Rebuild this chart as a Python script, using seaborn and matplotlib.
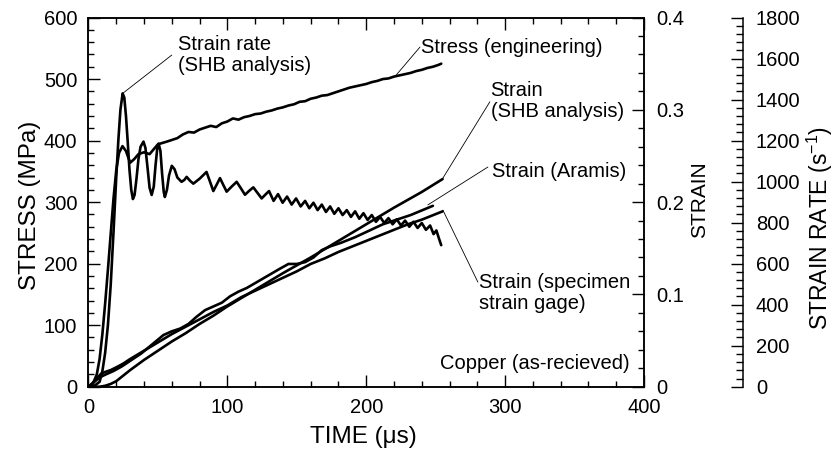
import matplotlib
matplotlib.use("Agg")
import matplotlib.pyplot as plt
import seaborn as sns
import pandas as pd
from matplotlib.ticker import MultipleLocator

# ---------------- data ----------------
stress_t = [0, 3, 6, 8, 10, 12, 14, 16, 18, 20, 22, 24.5, 27, 30, 33, 36, 40, 44, 47, 50,
            53, 56, 60, 64, 68, 72, 76, 80, 84, 88, 92, 96, 100, 104, 108, 112, 116, 120, 124, 128,
            132, 136, 140, 144, 148, 152, 156, 160, 164, 168, 172, 176, 180, 184, 188, 192, 196, 200,
            204, 208, 212, 216, 220, 224, 228, 232, 236, 240, 244, 248, 252, 254]
stress_v = [0, 4, 20, 45, 85, 135, 190, 248, 305, 352, 380, 391, 383, 364, 370, 378, 381, 378, 386, 394,
            396, 398, 401, 404, 410, 414, 413, 418, 421, 424, 422, 428, 431, 436, 434, 438, 440, 443, 444, 447,
            449, 452, 454, 457, 459, 463, 464, 468, 470, 473, 474, 477, 480, 483, 486, 488, 490, 492,
            495, 497, 500, 501, 504, 506, 508, 510, 513, 515, 518, 520, 523, 525]

rate_t = [0, 4, 8, 10, 12, 14, 16, 18, 20, 21.5, 23, 24.6, 25.8, 27, 28.2, 29.5, 30.8, 32, 33.2, 34.5,
          36, 37.5, 39.6, 41, 42.5, 44, 45.5, 47, 48.3, 49.5, 50.5, 51.8, 53, 54.2, 55, 56.5, 58, 60,
          62, 64, 67, 69, 70.7, 73, 75.5, 80, 85, 87.5, 89.9, 92.3, 94.7, 97, 99.5, 103, 106.7, 109.7,
          112.7, 115.7, 118.7, 121.7, 124.7, 127.3, 130, 133.3, 136.5, 139.8, 143,
          146.3, 149.5, 152.8, 156, 159, 162, 165, 168, 171, 174, 177, 180, 183, 186, 189, 192, 195,
          198, 201, 204, 207, 210, 213, 216, 219, 222, 225, 228, 231, 234, 237, 240, 243, 246, 248.5,
          250.5, 252.5, 254]
rate_v = [0, 3, 24, 75, 165, 300, 495, 750, 1020, 1200, 1350, 1430, 1410, 1320, 1200, 1060, 960, 915, 935, 1010,
          1110, 1170, 1195, 1165, 1070, 970, 935, 975, 1080, 1160, 1185, 1150, 1040, 950, 925, 960, 1030, 1077,
          1060, 1020, 999, 1008, 1023, 1005, 990, 1014, 1047, 1000, 954, 985, 1017, 985, 951, 975, 999, 968,
          936, 955, 972, 945, 918, 936, 954, 906, 939, 897, 927,
          888, 918, 879, 906, 870, 897, 861, 888, 852, 879, 843, 870, 837, 861, 828, 855, 819,
          846, 813, 837, 804, 828, 798, 822, 792, 816, 786, 810, 780, 804, 774, 798, 765, 786, 744,
          762, 720, 690]

shb_t = [0, 8, 12, 16, 20, 25, 30, 40, 50, 60, 70, 80, 90, 100, 120, 140, 160, 180, 200, 220, 240, 255]
shb_v = [0, 0, 0.001, 0.003, 0.006, 0.012, 0.018, 0.029, 0.039, 0.049, 0.058, 0.068, 0.077, 0.087,
         0.105, 0.123, 0.140, 0.158, 0.176, 0.194, 0.211, 0.225]

aramis_t = [0, 4, 8, 12, 18, 24, 30, 38, 46, 54, 60, 66, 72, 78, 84, 90, 96, 102, 108, 114, 122, 130,
            138, 144, 150, 156, 162, 168, 174, 182, 192, 202, 212, 222, 232, 240, 248]
aramis_v = [0, 0.005, 0.010, 0.013, 0.017, 0.022, 0.028, 0.036, 0.046, 0.056, 0.060, 0.063, 0.068, 0.076,
            0.083, 0.087, 0.091, 0.098, 0.103, 0.107, 0.114, 0.121, 0.128, 0.133, 0.133, 0.135, 0.140,
            0.148, 0.152, 0.156, 0.162, 0.169, 0.176, 0.181, 0.186, 0.191, 0.196]

gage_t = [0, 3, 6, 9, 12, 16, 20, 25, 30, 40, 50, 60, 70, 80, 90, 100, 110, 120, 130, 140, 150, 160,
          170, 180, 190, 200, 210, 220, 230, 240, 250, 255]
gage_v = [0, 0.004, 0.009, 0.014, 0.016, 0.018, 0.021, 0.025, 0.030, 0.039, 0.048, 0.057, 0.065, 0.073,
          0.081, 0.088, 0.097, 0.104, 0.111, 0.118, 0.125, 0.133, 0.139, 0.146, 0.152, 0.158, 0.164,
          0.170, 0.176, 0.181, 0.187, 0.190]

strain_ticks = [0, 0.1, 0.2, 0.3, 0.4]
strain_tick_labels = ["0", "0.1", "0.2", "0.3", "0.4"]

# ---------------- style ----------------
sns.set_theme(style="ticks")
plt.rcParams['font.family'] = ['Liberation Sans', 'DejaVu Sans']
plt.rcParams['mathtext.fontset'] = 'custom'
plt.rcParams['mathtext.rm'] = 'Liberation Sans'
for k in ['text.color', 'axes.labelcolor', 'xtick.color', 'ytick.color', 'axes.edgecolor']:
    plt.rcParams[k] = 'black'
plt.rcParams['axes.linewidth'] = 1.1

TICK_FS = 14.5
LABEL_FS = 17.5
ANN_FS = 14.5
LW = 1.9

fig = plt.figure(figsize=(8.37, 4.54), dpi=100)
ax = fig.add_axes([0.1057, 0.1482, 0.6637, 0.8132])
ax2 = ax.twinx()
ax3 = ax.twinx()

# ---------------- lines ----------------
df_s = pd.DataFrame({"t": stress_t, "v": stress_v})
sns.lineplot(data=df_s, x="t", y="v", ax=ax, color="black", lw=LW, estimator=None, sort=False)

for tt, vv in [(shb_t, shb_v), (aramis_t, aramis_v), (gage_t, gage_v)]:
    d = pd.DataFrame({"t": tt, "v": vv})
    sns.lineplot(data=d, x="t", y="v", ax=ax2, color="black", lw=LW, estimator=None, sort=False)

df_r = pd.DataFrame({"t": rate_t, "v": rate_v})
sns.lineplot(data=df_r, x="t", y="v", ax=ax3, color="black", lw=LW, estimator=None, sort=False)

# ---------------- axes ----------------
ax.set_xlim(0, 400)
ax.set_ylim(0, 600)
ax.xaxis.set_major_locator(MultipleLocator(100))
ax.xaxis.set_minor_locator(MultipleLocator(20))
ax.yaxis.set_major_locator(MultipleLocator(100))
ax.yaxis.set_minor_locator(MultipleLocator(20))
ax.tick_params(which='both', direction='in', top=True, right=False, labelsize=TICK_FS, width=1.0)
ax.tick_params(which='major', length=8.5)
ax.tick_params(which='minor', length=4.5)
ax.tick_params(axis='x', which='major', pad=8)
ax.tick_params(axis='y', which='major', pad=8)

ax2.set_ylim(0, 0.4)
ax2.set_yticks(strain_ticks)
ax2.set_yticklabels(strain_tick_labels)
ax2.yaxis.set_minor_locator(MultipleLocator(0.02))
ax2.tick_params(which='both', direction='in', labelsize=TICK_FS, width=1.0, pad=9)
ax2.tick_params(which='major', length=8.5)
ax2.tick_params(which='minor', length=4.5)

ax3.set_ylim(0, 1800)
ax3.yaxis.set_major_locator(MultipleLocator(200))
ax3.yaxis.set_minor_locator(MultipleLocator(40))
ax3.spines['right'].set_position(('axes', 1.1788))
for s in ['left', 'top', 'bottom']:
    ax3.spines[s].set_visible(False)
ax3.tick_params(which='both', direction='in', labelsize=TICK_FS, width=1.0, pad=9)
ax3.tick_params(which='major', length=9)
ax3.tick_params(which='minor', length=5)

ax.set_xlabel("TIME (μs)", fontsize=LABEL_FS)
ax.xaxis.label.set_va('center')
ax.xaxis.set_label_coords(0.494, -0.136)

ax.set_ylabel("STRESS (MPa)", fontsize=LABEL_FS)
ax.yaxis.label.set_va('center')
ax.yaxis.set_label_coords(-0.1053, 0.491)

ax2.set_ylabel("STRAIN", fontsize=15)
ax2.yaxis.label.set_va('center')
ax2.yaxis.label.set_ha('center')
ax2.yaxis.label.set_rotation(90)
ax2.yaxis.set_label_coords(1.1008, 0.506)

ax3.set_ylabel(r"STRAIN RATE (s$^{\mathregular{-1}}$)", fontsize=16.5)
ax3.yaxis.label.set_va('center')
ax3.yaxis.label.set_ha('center')
ax3.yaxis.label.set_rotation(90)
ax3.yaxis.set_label_coords(1.3165, 0.43)

# ---------------- annotations ----------------
lead = dict(arrowstyle='-', lw=0.6, color='black', shrinkA=0, shrinkB=0)
ax.annotate('', xy=(24.8, 477), xytext=(60, 539), arrowprops=lead)
ax.annotate('', xy=(221.4, 506), xytext=(238.7, 552), arrowprops=lead)
ax.annotate('', xy=(255.2, 339), xytext=(289, 463), arrowprops=lead)
ax.annotate('', xy=(244.4, 295.5), xytext=(287.6, 357), arrowprops=lead)
ax.annotate('', xy=(255.2, 287), xytext=(280.4, 170), arrowprops=lead)

ax.text(64.4, 539, "Strain rate\n(SHB analysis)", fontsize=ANN_FS, ha='left', va='center', linespacing=1.1)
ax.text(239.4, 551, "Stress (engineering)", fontsize=ANN_FS, ha='left', va='center')
ax.text(289.5, 464.5, "Strain\n(SHB analysis)", fontsize=ANN_FS, ha='left', va='center', linespacing=1.1)
ax.text(290.5, 349, "Strain (Aramis)", fontsize=ANN_FS, ha='left', va='center')
ax.text(281, 152, "Strain (specimen\nstrain gage)", fontsize=ANN_FS, ha='left', va='center', linespacing=1.1)
ax.text(389.8, 38, "Copper (as-recieved)", fontsize=ANN_FS, ha='right', va='center')

fig.savefig("out.png", dpi=100)
